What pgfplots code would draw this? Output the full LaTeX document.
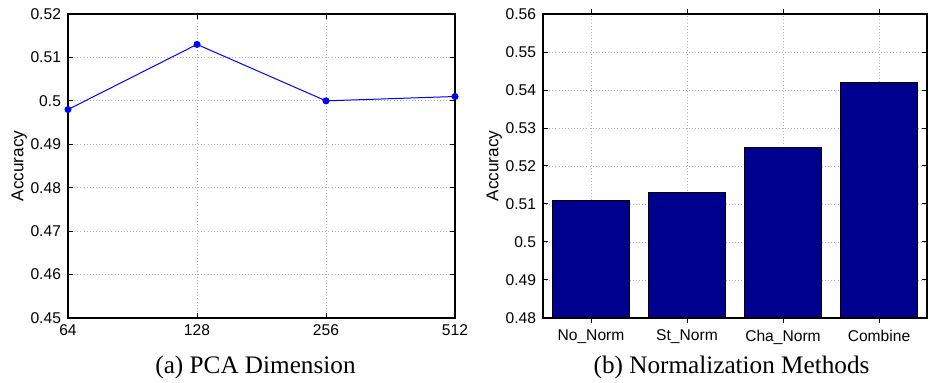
\documentclass[border=0pt]{standalone}
\usepackage{pgfplots}
\pgfplotsset{compat=1.18}
\usepackage{fontspec}
\setmainfont{Liberation Serif}
\newfontfamily\hel{Liberation Sans}
\definecolor{barnavy}{RGB}{0,0,143}
\pgfplotsset{mystyle/.style={
  scale only axis,
  axis line style={black, line width=0.6pt},
  tick style={black, line width=0.5pt},
  major tick length=2.5pt,
  tick align=inside,
  grid=major,
  major grid style={gray!60, line width=0.45pt, dash pattern=on 0.45pt off 1.1pt},
  ticklabel style={font=\hel\fontsize{7.8}{9}\selectfont},
  /pgf/number format/assume math mode=true,
  yticklabel style={/pgf/number format/fixed, /pgf/number format/precision=2},
  ylabel style={font=\hel\fontsize{8.6}{10}\selectfont, at={(rel axis cs:0,0.5)}, anchor=south, yshift=17pt},
  anchor=south west,
}}
\begin{document}
\begin{tikzpicture}
\path[use as bounding box] (0,0) rectangle (464.5pt,191.5pt);
\begin{axis}[mystyle, at={(34pt,32.5pt)}, width=193.5pt, height=152pt,
  xmin=0, xmax=3, ymin=0.45, ymax=0.52,
  xtick={0,1,2,3}, xticklabels={64,128,256,512},
  ytick={0.45,0.46,0.47,0.48,0.49,0.5,0.51,0.52},
  ylabel={Accuracy}, clip=false]
\addplot[blue, line width=0.5pt, mark=*, mark size=1.5pt, mark options={fill=blue, draw=blue}]
  coordinates {(0,0.498) (1,0.513) (2,0.500) (3,0.501)};
\end{axis}
\begin{axis}[mystyle, at={(271.5pt,32.5pt)}, width=192pt, height=152pt,
  xmin=0.5, xmax=4.5, ymin=0.48, ymax=0.56,
  xtick={1,2,3,4}, xticklabels={No\_Norm,St\_Norm,Cha\_Norm,Combine},
  ytick={0.48,0.49,0.5,0.51,0.52,0.53,0.54,0.55,0.56},
  ylabel={Accuracy}, ybar=0pt, bar width=0.8]
\addplot[fill=barnavy, draw=black, line width=0.5pt]
  coordinates {(1,0.511) (2,0.513) (3,0.525) (4,0.542)};
\end{axis}
\node[font=\fontsize{12.6}{15}\selectfont, anchor=base] at (127.75pt,4.5pt) {(a) PCA Dimension};
\node[font=\fontsize{12.6}{15}\selectfont, anchor=base] at (365.75pt,4.5pt) {(b) Normalization Methods};
\end{tikzpicture}
\end{document}
